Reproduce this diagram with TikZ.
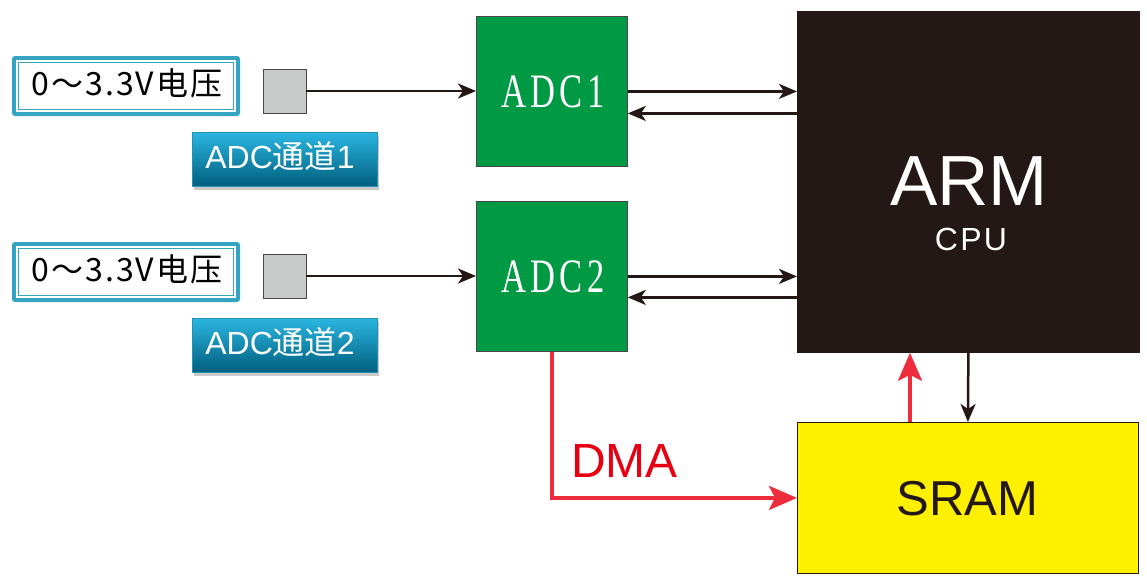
\documentclass[tikz,border=0pt]{standalone}
\usepackage{fontspec}
\setmainfont{Liberation Sans}
\newfontfamily\cjk{Noto Sans CJK SC}
\newfontfamily\vfont[LetterSpace=6]{Noto Sans CJK SC}
\newfontfamily\cpufont[LetterSpace=7]{Liberation Sans}
\newfontfamily\adcfont[FakeStretch=0.72,LetterSpace=9]{Liberation Serif}
\usetikzlibrary{arrows.meta,shadows,calc}
\definecolor{tealb}{HTML}{34A4C2}
\definecolor{labtop}{HTML}{2BB6E2}
\definecolor{labbot}{HTML}{005F7E}
\definecolor{adcgreen}{HTML}{009A44}
\definecolor{dark}{HTML}{231815}
\definecolor{sramy}{HTML}{FFF000}
\definecolor{redline}{HTML}{EE2D3C}
\definecolor{redtext}{HTML}{E60012}
\definecolor{graysq}{HTML}{C9CACA}
\definecolor{edgegray}{HTML}{4A4545}
\tikzset{
  blockbox/.style={rectangle, draw=edgegray, line width=0.8pt, anchor=north west, inner sep=0pt},
  vouter/.style={rectangle, fill=tealb, rounded corners=3pt, minimum width=228pt, minimum height=60pt, inner sep=0pt},
  vmid/.style={rectangle, fill=white, minimum width=220pt, minimum height=52pt, inner sep=0pt},
  vinner/.style={rectangle, fill=white, draw=tealb, line width=1pt, minimum width=215pt, minimum height=47pt, inner sep=0pt},
  vtext/.style={anchor=base, inner sep=0pt, font=\vfont\fontsize{32}{32}\selectfont},
  chlabel/.style={rectangle, top color=labtop, bottom color=labbot, draw=labtop!80!black, line width=0.5pt,
    minimum width=185pt, minimum height=54pt, inner sep=0pt,
    drop shadow={shadow xshift=2pt, shadow yshift=-4pt, fill=black!60, opacity=0.35}},
  chtext/.style={anchor=base, inner sep=0pt, text=white, font=\fontsize{32}{32}\selectfont},
  gsq/.style={rectangle, fill=graysq, draw=edgegray, line width=0.8pt, minimum width=43pt, minimum height=44pt, inner sep=0pt},
  adctext/.style={anchor=base, inner sep=0pt, text=white, font=\adcfont\fontsize{48}{48}\selectfont},
  arr/.style={draw=dark, line width=2.5pt, -{Stealth[length=18pt,width=15pt,inset=5pt]}},
  redarr/.style={draw=redline, line width=3.5pt, -{Stealth[length=28pt,width=24pt,inset=6pt]}},
}
\begin{document}
\begin{tikzpicture}[x=1pt,y=-1pt]
\useasboundingbox[fill=white] (0,0) rectangle (1147,582);
% voltage boxes
\node[vouter] (vo1) at (126,86) {};
\node[vmid] (vm1) at (vo1.center) {};
\node[vinner] (v1) at (vo1.center) {};
\node[vtext] (vt1) at (127,95) {0～3.3V电压};
\node[vouter] (vo2) at (126,272) {};
\node[vmid] (vm2) at (vo2.center) {};
\node[vinner] (v2) at (vo2.center) {};
\node[vtext] (vt2) at (127,281) {0～3.3V电压};
% channel labels
\node[chlabel] (l1) at (284.5,159) {};
\node[chtext] (lt1) at (280,168) {ADC{\cjk 通道}1};
\node[chlabel] (l2) at (284.5,345) {};
\node[chtext] (lt2) at (280,354) {ADC{\cjk 通道}2};
% gray squares
\node[gsq] (g1) at (284.5,91) {};
\node[gsq] (g2) at (284.5,276) {};
% ADC blocks
\node[blockbox, fill=adcgreen, minimum width=151pt, minimum height=150pt] (adc1) at (476,16) {};
\node[blockbox, fill=adcgreen, minimum width=151pt, minimum height=150pt] (adc2) at (476,201) {};
\node[adctext] (a1t) at (553,107) {ADC1};
\node[adctext] (a2t) at (553,292) {ADC2};
% ARM
\node[blockbox, fill=dark, draw=dark, minimum width=342pt, minimum height=341pt] (arm) at (797,11) {};
\node[anchor=base, inner sep=0pt, text=white, font=\fontsize{71}{71}\selectfont] (armt) at (969,205) {ARM};
\node[anchor=base, inner sep=0pt, text=white, font=\cpufont\fontsize{32}{32}\selectfont] (cput) at (971,250) {CPU};
% SRAM
\node[blockbox, fill=sramy, draw=dark, minimum width=341pt, minimum height=151pt] (sram) at (797,422) {};
\node[anchor=base, inner sep=0pt, text=dark, font=\fontsize{49}{49}\selectfont] (sramt) at (967.5,515) {SRAM};
% DMA label
\node[anchor=base west, inner sep=0pt, text=redtext, font=\fontsize{48}{48}\selectfont] (dmat) at (571,477) {DMA};
% connectors
\draw[arr] (g1.east) -- (g1.east -| adc1.west);
\draw[arr] (g2.east) -- (g2.east -| adc2.west);
\draw[arr] (adc1.east) -- (adc1.east -| arm.west);
\draw[arr] ($(arm.west |- adc1.east)+(0,22)$) -- ($(adc1.east)+(0,22)$);
\draw[arr] (adc2.east) -- (adc2.east -| arm.west);
\draw[arr] ($(arm.west |- adc2.east)+(0,21)$) -- ($(adc2.east)+(0,21)$);
\draw[redarr] (adc2.south) |- (sram.west);
\coordinate (rx) at (910,0);
\draw[redarr] (rx |- sram.north) -- (rx |- arm.south);
\draw[arr] (arm.south) -- (sram.north);
\end{tikzpicture}
\end{document}
